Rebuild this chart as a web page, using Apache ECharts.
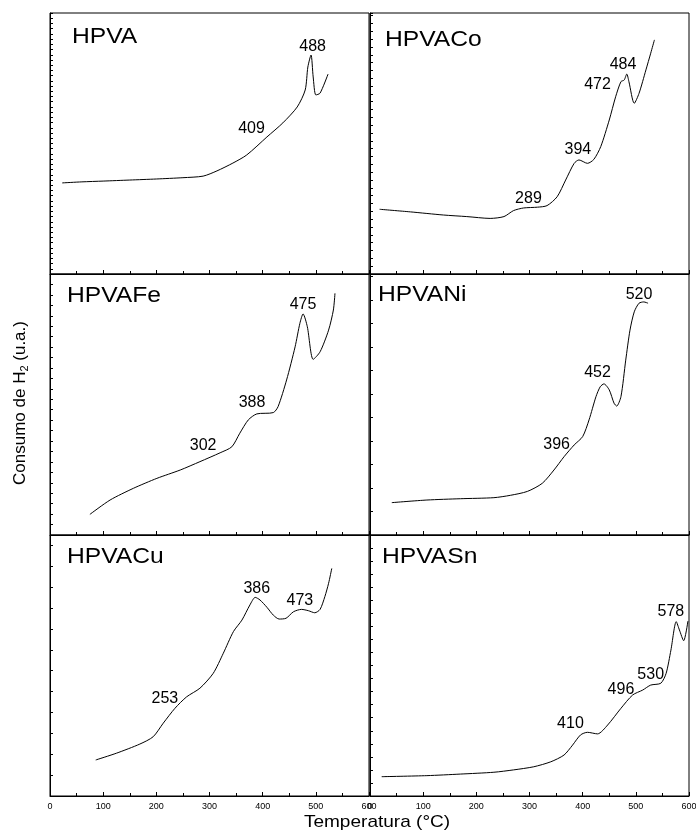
<!DOCTYPE html>
<html>
<head>
<meta charset="utf-8">
<script src="https://cdn.jsdelivr.net/npm/echarts@6/dist/echarts.min.js"></script>
<style>
  html, body { margin: 0; padding: 0; background: #fff; }
  #chart { width: 696px; height: 834px; }
</style>
</head>
<body>
<div id="chart"></div>
<script>
  // x axis (temperature, °C)
  const xMin = 0;
  const xMax = 600;
  const xStep = 100;

  const panelNames = ['HPVA', 'HPVACo', 'HPVAFe', 'HPVANi', 'HPVACu', 'HPVASn'];

  // curves: temperature / relative H2 consumption (0-100 of panel height)
  const hpvaT = [23, 60, 100, 150, 200, 250, 288, 314, 344, 370, 408, 438, 465, 480, 485, 491, 495, 500, 508, 523];
  const hpvaY = [34.9, 35.3, 35.6, 36.0, 36.4, 36.9, 37.5, 39.5, 42.5, 45.6, 52.5, 57.9, 64.0, 70.5, 79.3, 83.9, 75.5, 68.6, 69.3, 76.6];

  const hpvacoT = [18, 76, 138, 182, 226, 252, 270, 289, 315, 333, 352, 368, 384, 393, 409, 421, 434, 450, 462, 472, 478, 483, 487, 497, 506, 519, 528, 535];
  const hpvacoY = [24.8, 23.8, 22.6, 22.0, 21.3, 22.0, 24.3, 25.3, 25.6, 26.2, 29.6, 36.0, 42.4, 43.7, 42.4, 43.9, 48.8, 59.0, 67.9, 73.7, 74.3, 76.6, 73.7, 65.4, 69.2, 78.2, 84.6, 89.7];

  const hpvafeT = [75, 113, 157, 201, 245, 282, 320, 342, 357, 373, 389, 420, 429, 445, 461, 470, 476, 484, 495, 508, 524, 533, 536];
  const hpvafeY = [7.9, 13.4, 17.9, 21.7, 24.9, 28.1, 31.5, 33.8, 39.0, 44.1, 46.4, 46.9, 49.2, 59.4, 72.1, 81.1, 84.7, 79.8, 67.3, 70.2, 78.5, 86.2, 92.6];

  const hpvaniT = [41, 107, 170, 233, 264, 296, 324, 346, 365, 384, 400, 412, 425, 433, 440, 450, 459, 464, 472, 481, 489, 497, 506, 515, 523];
  const hpvaniY = [12.4, 13.4, 13.9, 14.3, 15.2, 16.7, 19.8, 24.9, 30.0, 34.5, 37.7, 44.1, 53.0, 56.8, 57.9, 55.6, 50.5, 49.4, 53.0, 67.0, 78.5, 85.5, 88.8, 89.3, 88.8];

  const hpvacuT = [86, 125, 169, 194, 213, 235, 257, 282, 307, 326, 345, 361, 376, 386, 395, 408, 420, 431, 444, 458, 473, 486, 498, 508, 517, 524, 530];
  const hpvacuY = [13.8, 16.4, 19.9, 22.7, 27.9, 33.6, 38.0, 41.3, 47.0, 54.7, 63.0, 67.4, 73.2, 76.1, 75.1, 72.3, 69.3, 67.8, 68.1, 70.6, 71.5, 71.0, 70.2, 71.5, 76.4, 81.5, 87.2];

  const hpvasnT = [22, 107, 170, 233, 270, 308, 340, 365, 381, 396, 409, 428, 447, 472, 494, 513, 528, 547, 557, 566, 576, 582, 590, 598];
  const hpvasnY = [7.4, 7.8, 8.4, 9.1, 10.0, 11.2, 13.1, 15.7, 19.5, 23.4, 24.4, 23.8, 27.2, 33.6, 38.7, 40.6, 42.5, 43.2, 47.0, 55.9, 66.8, 63.6, 59.5, 67.0];

  // peak annotations: [temperature, level, text]
  const hpvaPeaks = [[494, 87.2, '488'], [379, 55.6, '409']];
  const hpvacoPeaks = [[476, 80.1, '484'], [428, 72.6, '472'], [391, 47.5, '394'], [298, 28.7, '289']];
  const hpvafePeaks = [[476, 88.1, '475'], [380, 50.6, '388'], [288, 34.1, '302']];
  const hpvaniPeaks = [[506, 92.3, '520'], [428, 62.1, '452'], [351, 34.5, '396']];
  const hpvacuPeaks = [[389, 79.3, '386'], [470, 74.7, '473'], [216, 37.2, '253']];
  const hpvasnPeaks = [[566, 70.5, '578'], [528, 46.7, '530'], [472, 40.6, '496'], [377, 27.6, '410']];

  // y tick spacing differs panel to panel in the original
  const yTickSteps = [2, 3, 4, 9, 8, 5];

  const panelT = [hpvaT, hpvacoT, hpvafeT, hpvaniT, hpvacuT, hpvasnT];
  const panelY = [hpvaY, hpvacoY, hpvafeY, hpvaniY, hpvacuY, hpvasnY];
  const panelPeaks = [hpvaPeaks, hpvacoPeaks, hpvafePeaks, hpvaniPeaks, hpvacuPeaks, hpvasnPeaks];

  const colLeft = [50, 370];
  const rowTop = [13, 274, 535];
  const panelW = 319;
  const panelH = 261;
  const titlePos = [[72, 37], [385, 40], [67, 296], [378, 295], [67, 557], [382, 557]];
  const font = '"Liberation Sans", Arial, sans-serif';

  const chart = echarts.init(document.getElementById('chart'));

  const grids = [], xAxes = [], yAxes = [], series = [], graphics = [];

  panelNames.forEach((name, i) => {
    const col = i % 2;
    const row = Math.floor(i / 2);
    const bottomRow = row === 2;
    grids.push({
      left: colLeft[col], top: rowTop[row], width: panelW, height: panelH,
      outerBoundsMode: 'none',
      show: true, borderColor: '#000', borderWidth: 1, backgroundColor: 'transparent'
    });
    xAxes.push({
      type: 'value', gridIndex: i, min: xMin, max: xMax, interval: xStep,
      axisLine: { show: true, lineStyle: { color: '#000', width: 1 } },
      axisTick: { show: true, inside: true, length: 4, lineStyle: { color: '#000' } },
      minorTick: { show: true, splitNumber: 2, length: 3, lineStyle: { color: '#000' } },
      splitLine: { show: false },
      axisLabel: {
        show: bottomRow, color: '#000', fontSize: 9, margin: 6,
        fontFamily: font, hideOverlap: false
      }
    });
    yAxes.push({
      type: 'value', gridIndex: i, min: 0, max: 100, interval: yTickSteps[i],
      axisLine: { show: true, lineStyle: { color: '#000', width: 1 } },
      axisTick: { show: true, inside: true, length: 3, lineStyle: { color: '#000' } },
      axisLabel: { show: false },
      splitLine: { show: false }
    });
    series.push({
      name: name,
      type: 'line',
      xAxisIndex: i,
      yAxisIndex: i,
      data: panelT[i].map((t, k) => [t, panelY[i][k]]),
      showSymbol: false,
      smooth: 0.25,
      lineStyle: { color: '#000', width: 1 },
      animation: false,
      markPoint: {
        symbol: 'circle',
        symbolSize: 1,
        itemStyle: { color: 'rgba(0,0,0,0)' },
        label: {
          show: true, position: 'inside', color: '#000', fontSize: 16,
          fontFamily: font,
          formatter: (p) => p.name
        },
        data: panelPeaks[i].map(p => ({ name: p[2], coord: [p[0], p[1]] }))
      }
    });
    graphics.push({
      type: 'text',
      x: titlePos[i][0], y: titlePos[i][1],
      scaleX: 1.12,
      style: {
        text: name, x: 0, y: 0,
        align: 'left', verticalAlign: 'middle', fill: '#000',
        font: '22px ' + font
      }
    });
  });

  // axis titles
  graphics.push({
    type: 'text',
    x: 377, y: 822,
    scaleX: 1.12,
    style: {
      text: 'Temperatura (°C)', x: 0, y: 0,
      align: 'center', verticalAlign: 'middle', fill: '#000',
      font: '17px ' + font
    }
  });
  graphics.push({
    type: 'text',
    x: 20, y: 403,
    rotation: Math.PI / 2,
    style: {
      text: '{a|Consumo de H}{s|2}{a| (u.a.)}',
      x: 0, y: 0,
      align: 'center', verticalAlign: 'middle', fill: '#000',
      rich: {
        a: { fontSize: 17, fontFamily: font, fill: '#000' },
        s: { fontSize: 11, fontFamily: font, fill: '#000', padding: [9, 0, 0, 0] }
      }
    }
  });

  chart.setOption({
    backgroundColor: '#fff',
    animation: false,
    grid: grids,
    xAxis: xAxes,
    yAxis: yAxes,
    series: series,
    graphic: graphics
  });
</script>
</body>
</html>
